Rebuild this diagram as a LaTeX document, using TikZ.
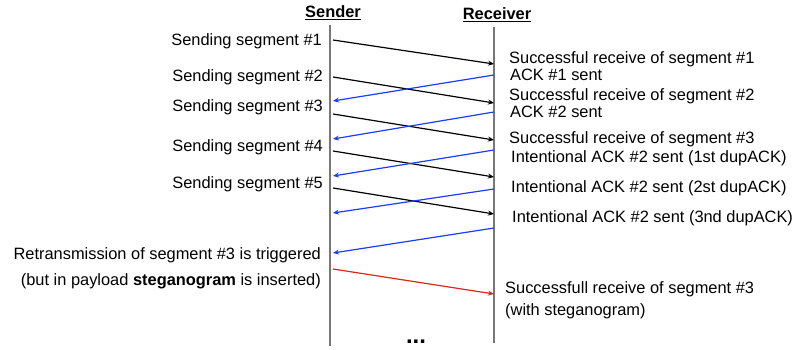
\documentclass[tikz,border=0pt]{standalone}
\usepackage{fontspec}
\setmainfont{Liberation Sans}
\usetikzlibrary{arrows.meta}
\definecolor{ackblue}{RGB}{30,60,240}
\definecolor{stegored}{RGB}{215,40,30}
\definecolor{linegray}{RGB}{120,120,120}
\tikzset{
  lifeline/.style={draw=linegray, line width=1.4pt},
  segmsg/.style={-{Stealth[length=6pt,width=5pt]}, line width=1.2pt},
  ackmsg/.style={segmsg, color=ackblue},
  stegomsg/.style={segmsg, color=stegored},
  rlbl/.style={inner sep=0pt, anchor=base west},
  llbl/.style={inner sep=0pt, anchor=base east},
  head/.style={inner sep=0pt, font=\fontsize{16.4}{17}\selectfont\bfseries}
}
\begin{document}
\begin{tikzpicture}[x=1pt,y=-1pt,font=\fontsize{16.4}{17}\selectfont]
\useasboundingbox (0,0) rectangle (795,350);
% lifelines
\node[head] (sender) at (333,13) {\underline{Sender}};
\node[head] (receiver) at (497,15) {\underline{Receiver}};
\coordinate (sTop) at (330,25);
\coordinate (sBot) at (330,346);
\coordinate (rTop) at (494,27);
\coordinate (rBot) at (494,343);
\draw[lifeline] (sTop) -- (sBot);
\draw[lifeline] (rTop) -- (rBot);
% segments
\foreach \i/\a/\b in {1/40/64, 2/77/103, 3/114/140, 4/151/177, 5/188/214}{
  \coordinate (seg\i s) at (333,\a);
  \coordinate (seg\i r) at (494,\b);
  \draw[segmsg] (seg\i s) -- (seg\i r);
}
% acks
\foreach \i/\a/\b in {1/75/101, 2/112/139, 3/150/176, 4/189/213, 5/228/253}{
  \coordinate (ack\i r) at (494,\a);
  \coordinate (ack\i s) at (333,\b);
  \draw[ackmsg] (ack\i r) -- (ack\i s);
}
\coordinate (retr s) at (333,269);
\coordinate (retr r) at (494,294);
\draw[stegomsg] (retr s) -- (retr r);
% sender side
\node[llbl] (send1) at (322,46) {Sending segment \#1};
\node[llbl] (send2) at (323,82) {Sending segment \#2};
\node[llbl] (send3) at (323,112) {Sending segment \#3};
\node[llbl] (send4) at (323,151) {Sending segment \#4};
\node[llbl] (send5) at (323,188) {Sending segment \#5};
\node[llbl] (retr1) at (321,259) {Retransmission of segment \#3 is triggered};
\node[llbl] (retr2) at (321,285) {(but in payload \textbf{steganogram} is inserted)};
% receiver side
\node[rlbl] (recv1) at (509,64) {Successful receive of segment \#1};
\node[rlbl] (acks1) at (510,81) {ACK \#1 sent};
\node[rlbl] (recv2) at (509,101) {Successful receive of segment \#2};
\node[rlbl] (acks2) at (510,118) {ACK \#2 sent};
\node[rlbl] (recv3) at (509,144) {Successful receive of segment \#3};
\node[rlbl] (dup1) at (511,163) {Intentional ACK \#2 sent (1st dupACK)};
\node[rlbl] (dup2) at (511,192) {Intentional ACK \#2 sent (2st dupACK)};
\node[rlbl] (dup3) at (512,222) {Intentional ACK \#2 sent (3nd dupACK)};
\node[rlbl] (recv4) at (505,293) {Successfull receive of segment \#3};
\node[rlbl] (recv5) at (505,315) {(with steganogram)};
\node[inner sep=0pt, anchor=base, font=\fontsize{24}{24}\selectfont\bfseries] (more) at (416,343) {...};
\end{tikzpicture}
\end{document}
